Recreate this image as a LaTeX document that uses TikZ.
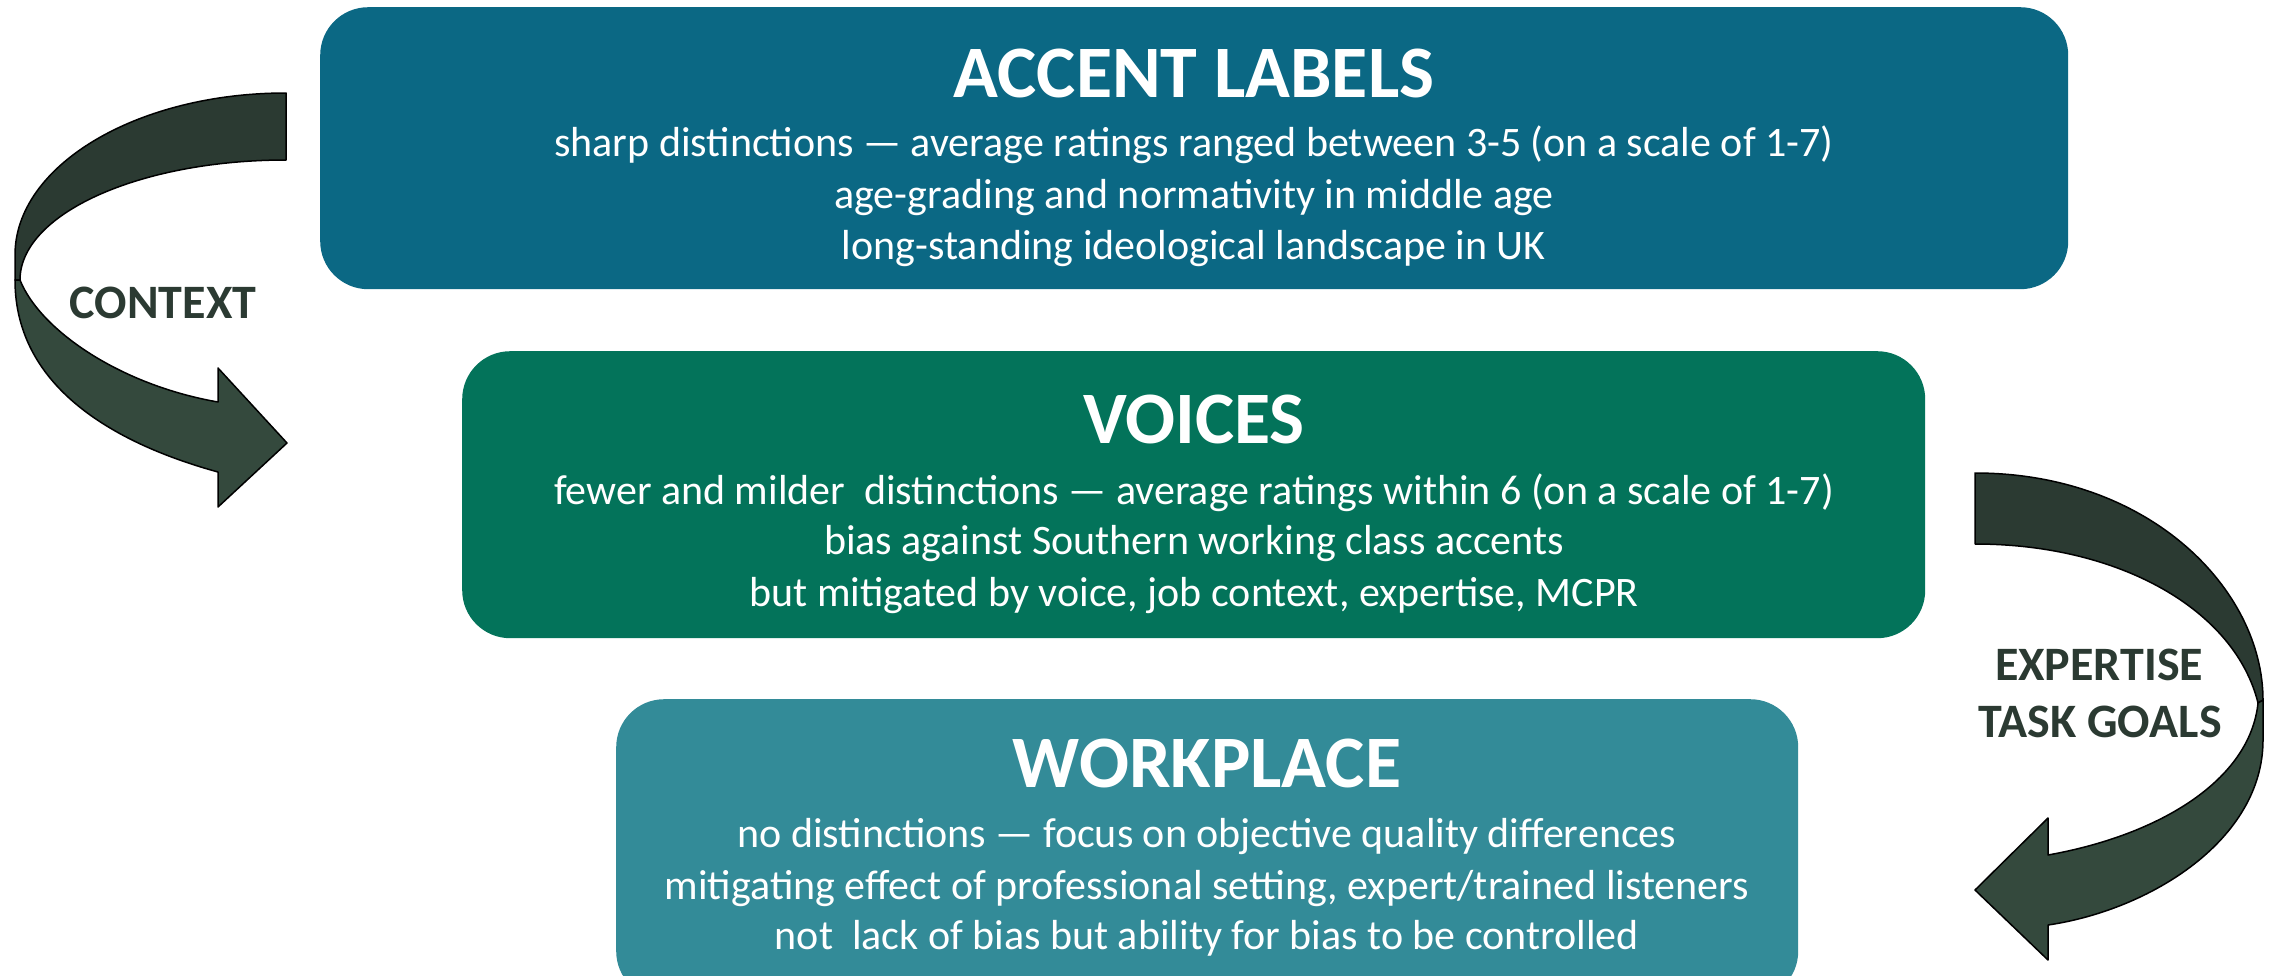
\documentclass[tikz,border=0pt]{standalone}
\usepackage{fontspec}
\setmainfont{Carlito}
\usepackage{xcolor}
\usetikzlibrary{positioning}
\definecolor{acBlue}{HTML}{0B6884}
\definecolor{vcGreen}{HTML}{03735A}
\definecolor{wpTeal}{HTML}{338B98}
\definecolor{arBack}{HTML}{2B3A32}
\definecolor{arFront}{HTML}{34493D}
\definecolor{arText}{HTML}{2B3A32}

\begin{document}
\begin{tikzpicture}[
    x=1pt,y=-1pt,
    panel/.style={rounded corners=48pt,inner sep=0pt,anchor=north west},
    hdr/.style={text=white,font=\fontsize{74}{80}\selectfont\bfseries,anchor=base},
    txt/.style={text=white,font=\fontsize{42}{50}\selectfont,anchor=base},
    ribbon/.style={draw=black,line width=1.5pt,line join=round},
    lab/.style={text=arText,font=\fontsize{48}{52}\selectfont\bfseries,anchor=base}
  ]
    \useasboundingbox (0,0) rectangle (2270,975);

    % three levels
    \node[panel,fill=acBlue,minimum width=1748pt,minimum height=282pt] (accent) at (320,7) {};
    \node[panel,fill=vcGreen,minimum width=1463pt,minimum height=287pt] (voices) at (462,351) {};
    \node[panel,fill=wpTeal,minimum width=1182pt,minimum height=300pt] (work) at (616,699) {};

    \node[hdr] (accT) at (1194,97)  {ACCENT LABELS};
    \node[txt] (acc1) at (1194,156) {sharp distinctions — average ratings ranged between 3-5 (on a scale of 1-7)};
    \node[txt] (acc2) at (1194,208) {age-grading and normativity in middle age};
    \node[txt] (acc3) at (1194,259) {long-standing ideological landscape in UK};

    \node[hdr] (voiT) at (1194,443) {VOICES};
    \node[txt] (voi1) at (1194,504) {fewer and milder\ \ distinctions — average ratings within 6 (on a scale of 1-7)};
    \node[txt] (voi2) at (1194,554) {bias against Southern working class accents};
    \node[txt] (voi3) at (1194,606) {but mitigated by voice, job context, expertise, MCPR};

    \node[hdr] (wrkT) at (1207,787) {WORKPLACE};
    \node[txt] (wrk1) at (1207,847) {no distinctions — focus on objective quality differences};
    \node[txt] (wrk2) at (1207,899) {mitigating effect of professional setting, expert/trained listeners};
    \node[txt] (wrk3) at (1207,949) {not\ \ lack of bias but ability for bias to be controlled};

    % left bent arrow
    \fill[arBack,ribbon] (286,93) .. controls (136,93) and (15,166) .. (15,255) -- (15,280)
        -- (20,280) .. controls (20,214) and (139,160) .. (286,160) -- cycle;
    \fill[arFront,ribbon] (15,280) .. controls (15,390) and (120,445) .. (218,472)
        -- (218,507) -- (287,443) -- (218,368) -- (218,402)
        .. controls (120,385) and (40,330) .. (20,280) -- cycle;
    \node[lab] (ctx) at (163,318) {CONTEXT};

    % right bent arrow
    \fill[arBack,ribbon] (1975,473) .. controls (2150,473) and (2263,590) .. (2263,700)
        -- (2258,703) .. controls (2235,610) and (2120,544) .. (1975,544) -- cycle;
    \fill[arFront,ribbon] (2263,700) -- (2263,740) .. controls (2263,840) and (2150,910) .. (2048,925)
        -- (2048,960) -- (1975,890) -- (2048,818) -- (2048,855)
        .. controls (2160,835) and (2250,780) .. (2258,703) -- cycle;
    \node[lab] (exp)  at (2099,680) {EXPERTISE};
    \node[lab] (goal) at (2100,737) {TASK GOALS};
  \end{tikzpicture}
\end{document}
